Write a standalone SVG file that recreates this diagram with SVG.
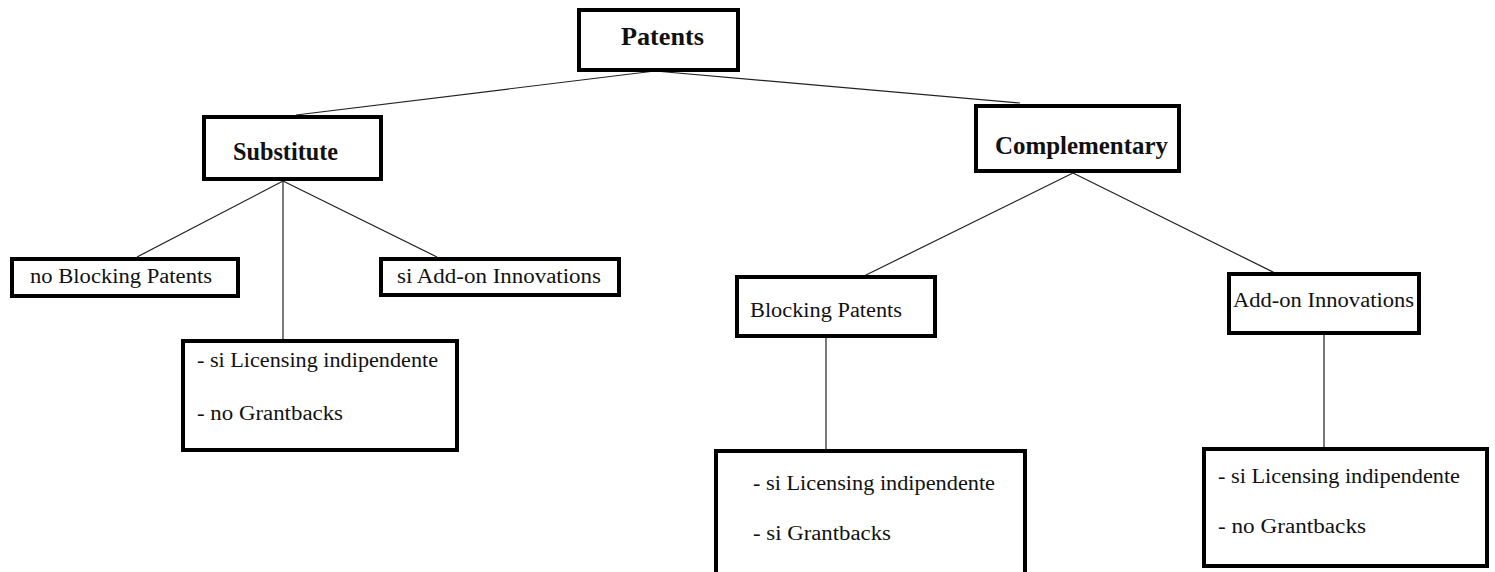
<svg xmlns="http://www.w3.org/2000/svg" width="1495" height="572" viewBox="0 0 1495 572">
<style>
.box{fill:#fff;stroke:#000;stroke-width:4}
.t{font-family:"Liberation Serif","Times New Roman",serif;font-size:20px;fill:#111}
.b{font-family:"Liberation Serif","Times New Roman",serif;font-size:25px;font-weight:bold;fill:#111}
.c line{stroke:#222;stroke-width:1.2}
</style>
<rect width="1495" height="572" fill="#fff"/>
<g class="c" id="connectors">
<line x1="655" y1="71" x2="296" y2="115"/>
<line x1="655" y1="71" x2="1020" y2="103"/>
<line x1="283" y1="181" x2="137" y2="257"/>
<line x1="283" y1="181" x2="283" y2="339"/>
<line x1="283" y1="181" x2="437" y2="257"/>
<line x1="1073" y1="173" x2="864" y2="276"/>
<line x1="1073" y1="173" x2="1275" y2="273"/>
<line x1="826" y1="338" x2="826" y2="449"/>
<line x1="1324" y1="335" x2="1324" y2="447"/>
</g>
<g id="patents"><rect class="box" x="579" y="10" width="159" height="60"/><text class="b" x="621" y="45" textLength="83" lengthAdjust="spacingAndGlyphs">Patents</text></g>
<g id="substitute"><rect class="box" x="204" y="117" width="177" height="62"/><text class="b" x="233" y="160" textLength="105" lengthAdjust="spacingAndGlyphs">Substitute</text></g>
<g id="complementary"><rect class="box" x="976" y="106" width="203" height="65"/><text class="b" x="995" y="154" textLength="173" lengthAdjust="spacingAndGlyphs">Complementary</text></g>
<g id="no-blocking"><rect class="box" x="12" y="259" width="226" height="37"/><text class="t" x="30" y="283" textLength="182" lengthAdjust="spacingAndGlyphs">no Blocking Patents</text></g>
<g id="si-addon"><rect class="box" x="381" y="259" width="238" height="36"/><text class="t" x="397" y="283" textLength="204" lengthAdjust="spacingAndGlyphs">si Add-on Innovations</text></g>
<g id="sub-result"><rect class="box" x="183" y="341" width="274" height="109"/>
<text class="t" x="197" y="367" textLength="241" lengthAdjust="spacingAndGlyphs">- si Licensing indipendente</text>
<text class="t" x="197" y="420" textLength="146" lengthAdjust="spacingAndGlyphs">- no Grantbacks</text></g>
<g id="blocking"><rect class="box" x="737" y="277" width="198" height="59"/><text class="t" x="750" y="317" textLength="152" lengthAdjust="spacingAndGlyphs">Blocking Patents</text></g>
<g id="addon"><rect class="box" x="1229" y="274" width="190" height="59"/><text class="t" x="1233" y="307" textLength="181" lengthAdjust="spacingAndGlyphs">Add-on Innovations</text></g>
<g id="blocking-result"><rect class="box" x="716" y="451" width="309" height="130"/>
<text class="t" x="753" y="490" textLength="242" lengthAdjust="spacingAndGlyphs">- si Licensing indipendente</text>
<text class="t" x="753" y="540" textLength="138" lengthAdjust="spacingAndGlyphs">- si Grantbacks</text></g>
<g id="addon-result"><rect class="box" x="1204" y="449" width="283" height="117"/>
<text class="t" x="1218" y="483" textLength="242" lengthAdjust="spacingAndGlyphs">- si Licensing indipendente</text>
<text class="t" x="1218" y="533" textLength="148" lengthAdjust="spacingAndGlyphs">- no Grantbacks</text></g>
</svg>
